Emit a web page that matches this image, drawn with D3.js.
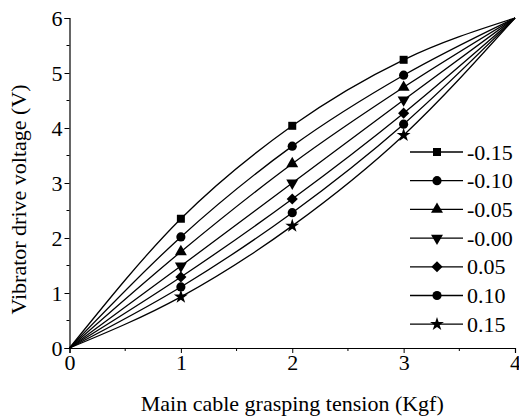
<!DOCTYPE html>
<html>
<head>
<meta charset="utf-8">
<script src="https://cdn.jsdelivr.net/npm/d3@7"></script>
<style>
  body { margin: 0; background: #fff; }
  svg { display: block; }
  svg text { font-family: 'Liberation Serif', 'DejaVu Serif', serif !important; }
</style>
</head>
<body>
<svg id="chart" width="519" height="418"></svg>
<script>
// tension (Kgf)
const tension = [0, 1, 2, 3, 4]
const seriesNames = ['-0.15', '-0.10', '-0.05', '-0.00', '0.05', '0.10', '0.15']
const seriesSymbols = ['square', 'circle', 'triangle', 'triangleDown', 'diamond', 'circle', 'star']
// voltage (V) for each series
const voltage = [
    [0, 2.35, 4.04, 5.24, 6],
    [0, 2.02, 3.67, 4.96, 6],
    [0, 1.75, 3.35, 4.74, 6],
    [0, 1.49, 3.00, 4.51, 6],
    [0, 1.29, 2.71, 4.27, 6],
    [0, 1.11, 2.46, 4.07, 6],
    [0, 0.93, 2.22, 3.87, 6]
]
const xTicks = [0, 1, 2, 3, 4]
const yTicks = [0, 1, 2, 3, 4, 5, 6]

const serif = "'Liberation Serif', 'DejaVu Serif', serif"

const svg = d3.select('#chart')
const x = d3.scaleLinear().domain([0, 4]).range([69.5, 515])
const y = d3.scaleLinear().domain([0, 6]).range([348, 18])

// curves
const line = d3.line()
    .x(d => x(d[0]))
    .y(d => y(d[1]))
    .curve(d3.curveMonotoneX)

// diamond as a rotated square (d3's one is too narrow)
const squareDiamond = {
    draw(ctx, size) {
        const r = Math.sqrt(size / 2)
        ctx.moveTo(0, -r); ctx.lineTo(r, 0); ctx.lineTo(0, r); ctx.lineTo(-r, 0); ctx.closePath()
    }
}

const symbolFor = name => {
    if (name === 'square') return d3.symbol(d3.symbolSquare, 64)
    if (name === 'circle') return d3.symbol(d3.symbolCircle, 66)
    if (name === 'triangle') return d3.symbol(d3.symbolTriangle, 62)
    if (name === 'triangleDown') return d3.symbol(d3.symbolTriangle, 62)
    if (name === 'diamond') return d3.symbol(squareDiamond, 62)
    return d3.symbol(d3.symbolStar, 60)
}
const rot = name => name === 'triangleDown' ? ' rotate(180)' : ''

const plot = svg.append('g')
voltage.forEach((vals, i) => {
    const pts = tension.map((t, j) => [t, vals[j]])
    plot.append('path')
        .attr('d', line(pts))
        .attr('fill', 'none')
        .attr('stroke', '#000')
        .attr('stroke-width', 1.3)

    plot.selectAll(null)
        .data(pts.slice(1, 4))
        .enter().append('path')
        .attr('d', symbolFor(seriesSymbols[i]))
        .attr('transform', d => `translate(${x(d[0])},${y(d[1])})${rot(seriesSymbols[i])}`)
        .attr('fill', '#000')
})

// axes
const xAxis = svg.append('g')
    .attr('transform', `translate(0,${y(0)})`)
    .call(d3.axisBottom(x).tickValues(xTicks).tickFormat(d3.format('d')).tickSize(5).tickPadding(1))
xAxis.attr('font-size', 22)
xAxis.selectAll('text').style('font-family', serif)
xAxis.selectAll(null)
    .data(d3.range(0.5, 4, 1))
    .enter().append('line')
    .attr('x1', d => x(d)).attr('x2', d => x(d))
    .attr('y1', 0).attr('y2', 3)
    .attr('stroke', '#000')

const yAxis = svg.append('g')
    .attr('transform', `translate(${x(0)},0)`)
    .call(d3.axisLeft(y).tickValues(yTicks).tickFormat(d3.format('d')).tickSize(5).tickPadding(2))
yAxis.attr('font-size', 22)
yAxis.selectAll('text').style('font-family', serif)
yAxis.selectAll(null)
    .data(d3.range(0.5, 6, 1))
    .enter().append('line')
    .attr('y1', d => y(d)).attr('y2', d => y(d))
    .attr('x1', 0).attr('x2', -3)
    .attr('stroke', '#000')

svg.selectAll('.domain').attr('stroke-width', 1.2)

// axis titles
svg.append('text')
    .attr('x', x(2))
    .attr('y', 411)
    .attr('text-anchor', 'middle')
    .style('font-family', serif)
    .attr('font-size', 22)
    .text('Main cable grasping tension (Kgf)')

svg.append('text')
    .attr('transform', `translate(26,${y(2.7)}) rotate(-90)`)
    .attr('text-anchor', 'middle')
    .style('font-family', serif)
    .attr('font-size', 22)
    .text('Vibrator drive voltage (V)')

// legend
const legend = svg.append('g')
seriesNames.forEach((name, i) => {
    const ly = 152 + i * 28.7
    legend.append('line')
        .attr('x1', 410).attr('x2', 463)
        .attr('y1', ly).attr('y2', ly)
        .attr('stroke', '#000').attr('stroke-width', 1.3)
    legend.append('path')
        .attr('d', symbolFor(seriesSymbols[i]))
        .attr('transform', `translate(437,${ly})${rot(seriesSymbols[i])}`)
        .attr('fill', '#000')
    legend.append('text')
        .attr('x', 467).attr('y', ly + 7.5)
        .style('font-family', serif)
        .attr('font-size', 22)
        .text(name)
})
</script>
</body>
</html>
